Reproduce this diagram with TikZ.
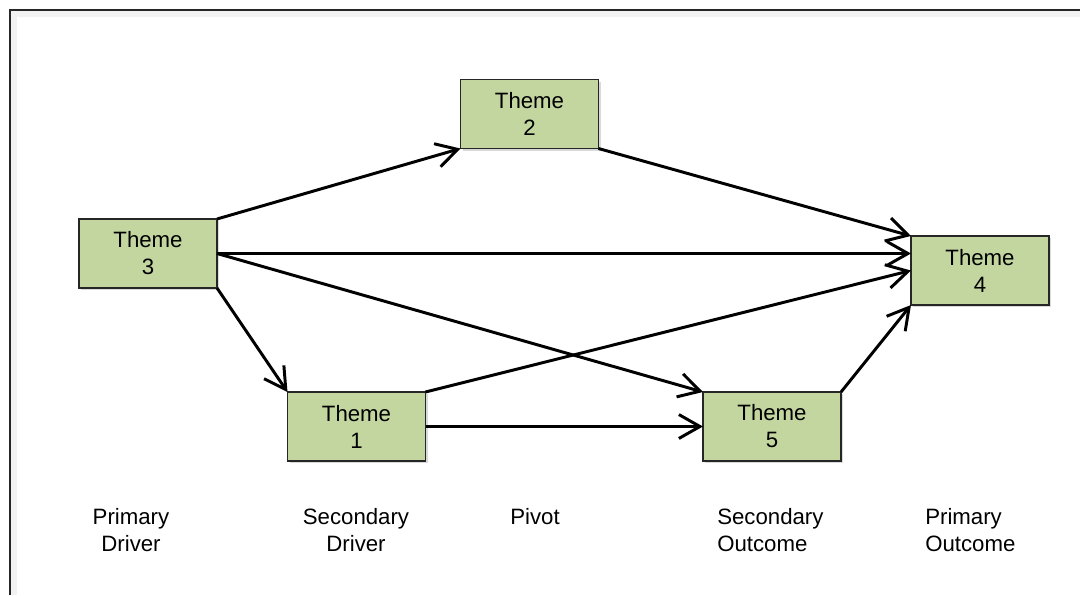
\documentclass[tikz,border=0pt]{standalone}
\usepackage{fontspec}
\setmainfont{Liberation Sans}
\usepackage{tikz}
\usetikzlibrary{arrows.meta,shadows}
\definecolor{themegreen}{RGB}{196,214,160}
\tikzset{theme/.style={draw=black!85,line width=0.9pt,fill=themegreen,minimum width=3.45cm,minimum height=1.725cm,inner sep=0pt,outer sep=0pt,align=center,
                       drop shadow={opacity=0.3,shadow xshift=1.5pt,shadow yshift=-1.5pt}},
         arr/.style={line width=2.1pt,-{Straight Barb[length=15pt,width=17pt,line width=2.1pt]}},
         stage/.style={anchor=north,align=center,inner sep=0pt}}
\begin{document}
\begin{tikzpicture}[x=0.025cm,y=-0.025cm,font=\fontsize{15.8}{19.2}\selectfont]
                      \useasboundingbox(0,0)rectangle(1080,595);
                      % frame
                      \draw[black!5,line width=4pt](14,595)--(14,14)--(1080,14);
                      \draw[black!85,line width=1.6pt](10,595)--(10,10)--(1080,10);
                      % themes
                      \node[theme](t3)at(148,253.5){Theme\\3};
                      \node[theme](t2)at(529.5,114){Theme\\2};
                      \node[theme](t4)at(980,270.5){Theme\\4};
                      \node[theme](t1)at(356.5,426.5){Theme\\1};
                      \node[theme](t5)at(772,426.5){Theme\\5};
                      % links
                      \draw[arr](t3.north east)--(t2.south west);
                      \draw[arr](t2.south east)--(t4.north west);
                      \draw[arr](t3.east)--(t3.east -| t4.west);
                      \draw[arr](t3.east)--(t5.north west);
                      \draw[arr](t3.south east)--(t1.north west);
                      \draw[arr](t1.north east)--(t4.west);
                      \draw[arr](t1.east)--(t5.west);
                      \draw[arr](t5.north east)--(t4.south west);
                      % stages
                      \node[stage](pd)at(131,508){Primary\\Driver};
                      \node[stage](sd)at(356,508){Secondary\\Driver};
                      \node[stage](pv)at(535,508){Pivot};
                      \node[stage,anchor=north west,align=left](so)at(717,508){Secondary\\Outcome};
                      \node[stage,anchor=north west,align=left](po)at(925,508){Primary\\Outcome};
                  \end{tikzpicture}
\end{document}
